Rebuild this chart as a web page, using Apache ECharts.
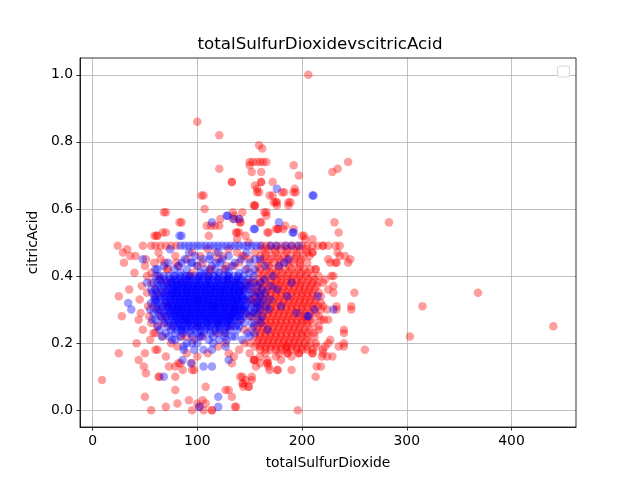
<!DOCTYPE html>
<html>
<head>
<meta charset="UTF-8">
<script src="https://cdn.jsdelivr.net/npm/echarts@6/dist/echarts.min.js"></script>
<style>
  html, body { margin: 0; padding: 0; background: #fff; }
  #container { width: 640px; height: 480px; }
</style>
</head>
<body>
<div id="container"></div>
<script>
// tick labels
var xTicks = [0, 100, 200, 300, 400];
var yTicks = [0, 0.2, 0.4, 0.6, 0.8, 1.0];

// red points [totalSulfurDioxide, citricAcid]
var redUpper = [[206,1.00],[100,0.86],[121,0.82],[159,0.79],[162,0.78],[121,0.72],[150,0.74],[153,0.74],[157,0.74],[160,0.74],[163,0.74],[166,0.74],
  [150,0.73],[152,0.71],[161,0.71],[192,0.73],[197,0.70],[161,0.68],[161,0.68],[172,0.68],[133,0.68],[133,0.68],[155,0.67],[157,0.66],[157,0.65],
  [183,0.65],[193,0.66],[192,0.65],[172,0.64],[173,0.62],[106,0.64],[107,0.60],[155,0.61],[155,0.61],[176,0.62],[176,0.61],[187,0.62],[187,0.61],
  [70,0.59],[85,0.56],[70,0.53],[62,0.52],[61,0.52],[134,0.59],[143,0.59],[134,0.57],[140,0.57],[122,0.57],[113,0.55],[121,0.55],[166,0.59],
  [166,0.58],[160,0.56],[177,0.54],[177,0.54],[168,0.53],[182,0.54],[192,0.54],[137,0.53],[140,0.53],[111,0.52],[200,0.52],[203,0.51],[244,0.74],
  [234,0.72],[229,0.71],[231,0.56],[283,0.56],[235,0.53],[104,0.64],[68,0.59],[83,0.56],[59,0.52],[67,0.53],[109,0.55],[117,0.55],[141,0.56],
  [141,0.56],[135,0.58],[138,0.53],[146,0.52],[138,0.51],[149,0.50],[154,0.61],[164,0.59],[161,0.56],[167,0.53],[175,0.54],[184,0.55],[202,0.52],
  [210,0.51],[159,0.65],[169,0.64],[175,0.62],[181,0.65],[189,0.62],[194,0.65],[368,0.35],[315,0.31],[440,0.25],[303,0.22],[260,0.18],[250,0.35]];

var redBand = [[24,0.49],[48,0.49],[56,0.49],[60,0.49],[65,0.49],[70,0.49],[75,0.49],[80,0.49],[162,0.49],[166,0.49],[170,0.49],[175,0.49],
  [180,0.49],[185,0.49],[190,0.49],[195,0.49],[200,0.49],[205,0.49],[210,0.49],[215,0.49],[220,0.49],[220,0.49],[225,0.49],[232,0.49],[236,0.49],
  [29,0.47],[33,0.48],[41,0.46],[63,0.47],[65,0.45],[69,0.44],[59,0.44],[56,0.41],[62,0.40],[79,0.46],[82,0.43],[210,0.47],[210,0.47],[234,0.47],
  [236,0.46],[241,0.46],[246,0.45],[244,0.44],[225,0.45],[227,0.44],[232,0.44],[233,0.44],[213,0.42],[213,0.42],[228,0.40],[95,0.47],[103,0.46],
  [110,0.48],[118,0.47],[125,0.46],[130,0.48],[138,0.47],[145,0.46],[150,0.45],[155,0.47],[100,0.43],[112,0.42],[128,0.43],[140,0.44],[148,0.42],
  [158,0.43],[162,0.48],[168,0.48],[174,0.48],[180,0.48],[186,0.48],[192,0.48],[198,0.48],[204,0.48],[160,0.46],[165,0.46],[171,0.46],[177,0.46],
  [183,0.46],[189,0.46],[195,0.46],[201,0.46],[207,0.46],[163,0.45],[170,0.45],[178,0.45],[185,0.45],[193,0.45],[199,0.45],[161,0.44],[167,0.44],
  [173,0.44],[179,0.44],[186,0.44],[192,0.44],[198,0.44],[205,0.44],[160,0.42],[166,0.42],[172,0.42],[178,0.42],[184,0.42],[190,0.42],[196,0.42],
  [202,0.42],[208,0.42],[164,0.41],[175,0.41],[187,0.41],[199,0.41],[162,0.40],[168,0.40],[174,0.40],[180,0.40],[186,0.40],[192,0.40],[198,0.40],
  [204,0.40],[210,0.40],[216,0.40],[220,0.38],[230,0.37],[230,0.40],[230,0.35],
  [165,0.47],[175,0.47],[185,0.47],[195,0.47],[205,0.47],[168,0.43],[178,0.43],[188,0.43],[198,0.43],[158,0.41],[170,0.41],[181,0.41],[193,0.41],[205,0.41]];

var redMid = [[160,0.39],[170,0.39],[180,0.39],[190,0.39],[200,0.39],[212,0.39],[222,0.39],[155,0.38],[165,0.38],[175,0.38],[185,0.38],[195,0.38],
  [205,0.38],[215,0.38],[158,0.37],[168,0.37],[178,0.37],[188,0.37],[198,0.37],[208,0.37],[152,0.36],[162,0.36],[172,0.36],[182,0.36],[192,0.36],
  [202,0.36],[212,0.36],[225,0.36],[160,0.35],[170,0.35],[180,0.35],[190,0.35],[200,0.35],[210,0.35],[155,0.34],[165,0.34],[175,0.34],[185,0.34],
  [195,0.34],[205,0.34],[218,0.34],[158,0.33],[168,0.33],[178,0.33],[188,0.33],[198,0.33],[208,0.33],[152,0.32],[162,0.32],[172,0.32],[182,0.32],
  [192,0.32],[202,0.32],[212,0.32],[160,0.31],[170,0.31],[180,0.31],[190,0.31],[200,0.31],[210,0.31],[220,0.31],[233,0.31],[247,0.31],[155,0.30],
  [165,0.30],[175,0.30],[185,0.30],[195,0.30],[205,0.30],[218,0.30],[233,0.30],[247,0.30],[158,0.29],[168,0.29],[178,0.29],[188,0.29],[198,0.29],
  [208,0.29],[152,0.28],[162,0.28],[172,0.28],[182,0.28],[192,0.28],[202,0.28],[160,0.27],[170,0.27],[180,0.27],[190,0.27],[200,0.27],[208,0.27],
  [218,0.27],[221,0.27],[225,0.27],[155,0.26],[165,0.26],[175,0.26],[185,0.26],[195,0.26],[205,0.26],[158,0.25],[168,0.25],[178,0.25],[188,0.25],
  [198,0.25],[216,0.25],[152,0.24],[162,0.24],[172,0.24],[182,0.24],[192,0.24],[202,0.24],[216,0.24],[240,0.24],[160,0.23],[170,0.23],[180,0.23],
  [190,0.23],[200,0.23],[211,0.23],[155,0.22],[165,0.22],[175,0.22],[185,0.22],[195,0.22],[205,0.22],[158,0.21],[168,0.21],[178,0.21],[188,0.21],
  [198,0.21],[227,0.21],[150,0.20],[162,0.20],[172,0.20],[182,0.20],[192,0.20],[202,0.20],[213,0.20],[225,0.20],[240,0.20],[155,0.19],[165,0.19],
  [175,0.19],[185,0.19],[195,0.19],[205,0.19],[214,0.19],[222,0.19],[235,0.19],[240,0.19],[160,0.18],[170,0.18],[180,0.18],[190,0.18],[200,0.18],
  [210,0.18],[220,0.18],[150,0.17],[165,0.17],[178,0.17],[186,0.17],[197,0.17],[210,0.17],[229,0.16],[160,0.16],[175,0.16],[190,0.16],[219,0.16],
  [154,0.15],[167,0.15],[180,0.15],[240,0.23],[214,0.13]];

var redMid2 = [[153,0.39],[164,0.39],[176,0.39],[186,0.39],[195,0.39],[206,0.39],[150,0.38],[160,0.38],[171,0.38],[180,0.38],[190,0.38],[199,0.38],
  [210,0.38],[163,0.37],[173,0.37],[183,0.37],[193,0.37],[203,0.37],[214,0.37],[157,0.36],[167,0.36],[177,0.36],[187,0.36],[197,0.36],[207,0.36],
  [155,0.35],[165,0.35],[175,0.35],[185,0.35],[195,0.35],[205,0.35],[216,0.35],[160,0.34],[170,0.34],[180,0.34],[190,0.34],[200,0.34],[210,0.34],
  [153,0.33],[163,0.33],[173,0.33],[183,0.33],[193,0.33],[203,0.33],[213,0.33],[157,0.32],[167,0.32],[177,0.32],[187,0.32],[197,0.32],[207,0.32],
  [218,0.32],[165,0.31],[175,0.31],[185,0.31],[195,0.31],[205,0.31],[215,0.31],[160,0.30],[170,0.30],[180,0.30],[190,0.30],[200,0.30],[211,0.30],
  [224,0.30],[163,0.29],[173,0.29],[183,0.29],[193,0.29],[203,0.29],[213,0.29],[157,0.28],[167,0.28],[177,0.28],[187,0.28],[197,0.28],[207,0.28],
  [216,0.28],[165,0.27],[175,0.27],[185,0.27],[195,0.27],[204,0.27],[160,0.26],[170,0.26],[180,0.26],[190,0.26],[200,0.26],[211,0.26],[163,0.25],
  [173,0.25],[183,0.25],[193,0.25],[205,0.25],[157,0.24],[167,0.24],[177,0.24],[187,0.24],[197,0.24],[208,0.24],[165,0.23],[175,0.23],[185,0.23],
  [195,0.23],[205,0.23],[160,0.22],[170,0.22],[180,0.22],[190,0.22],[200,0.22],[212,0.22],[163,0.21],[173,0.21],[183,0.21],[193,0.21],[205,0.21],
  [157,0.20],[167,0.20],[177,0.20],[187,0.20],[197,0.20],[208,0.20],[160,0.19],[170,0.19],[180,0.19],[190,0.19],[200,0.19],[165,0.18],[175,0.18],
  [185,0.18],[195,0.18],[205,0.18]];

var redLeft = [[25,0.34],[28,0.28],[44,0.15],[49,0.13],[51,0.11],[63,0.10],[64,0.10],[50,0.04],[56,0.00],[70,0.01],[9,0.09],[25,0.17],[62,0.18],
  [81,0.19],[73,0.13],[82,0.14],[97,0.12],[46,0.29],[54,0.28],[56,0.26],[62,0.25],[67,0.22],[63,0.30],[70,0.28],[60,0.34],[56,0.38],[65,0.39],
  [71,0.42],[60,0.18],[40,0.41],[35,0.36],[45,0.33],[52,0.40],[30,0.44],[48,0.24],[42,0.20],[58,0.31],[52,0.35],[66,0.35],[68,0.26],[72,0.31],
  [75,0.38],[36,0.46],[50,0.43],[55,0.21],[50,0.17],[47,0.37],[53,0.31],[58,0.23],[44,0.27],[51,0.45]];

var redLower = [[79,0.13],[86,0.12],[95,0.12],[79,0.06],[81,0.02],[92,0.03],[105,0.03],[108,0.02],[114,0.00],[95,0.00],[127,0.06],[130,0.06],
  [137,0.01],[141,0.10],[144,0.08],[144,0.07],[149,0.07],[152,0.09],[154,0.15],[156,0.13],[167,0.14],[169,0.12],[177,0.12],[196,0.00],[213,0.10],
  [218,0.13],[220,0.17],[210,0.17],[197,0.17],[186,0.17],[185,0.19],[79,0.10],[84,0.14],[95,0.14],[100,0.02],[102,0.01],[106,0.00],[114,0.00],
  [108,0.07],[133,0.04],[136,0.01],[143,0.10],[152,0.10],[155,0.15],[160,0.14],[167,0.14],[168,0.13],[176,0.12],[190,0.12],[224,0.16],[127,0.20],
  [130,0.17],[133,0.14],[100,0.16],[110,0.17],[120,0.19],[90,0.17],[70,0.16],[75,0.20],[85,0.22],[60,0.23],[143,0.08],[146,0.09],[149,0.07],
  [140,0.18],[145,0.20],[118,0.23],[97,0.21],[135,0.16]];

var redCore = [[140,0.35],[145,0.36],[135,0.30],[120,0.26],[100,0.25],[90,0.27],[80,0.30],[75,0.35],[70,0.38],[110,0.40],[125,0.42],[95,0.41],
  [85,0.38],[100,0.33],[115,0.31],[130,0.28],[145,0.24],[150,0.28],[105,0.22],[90,0.22],[75,0.25],[65,0.28],[70,0.32],[60,0.36],[72,0.42],
  [80,0.44],[90,0.45],[150,0.33],[148,0.38],[142,0.30],[138,0.33],[141,0.27],[136,0.38],[132,0.25],[128,0.39],[146,0.29],[143,0.37],[126,0.23],
  [113,0.42],[105,0.44],[93,0.40],[120,0.45],[135,0.43],[143,0.46]];

// blue points [totalSulfurDioxide, citricAcid]
var blueCore = [[68,0.40],[73,0.40],[79,0.40],[84,0.40],[88,0.40],[93,0.40],[97,0.40],[102,0.40],[107,0.40],[111,0.40],[116,0.40],[121,0.40],
  [125,0.40],[130,0.40],[135,0.40],[139,0.40],[144,0.40],
  [64,0.39],[69,0.39],[74,0.39],[78,0.39],[83,0.39],[87,0.39],[92,0.39],[96,0.39],[101,0.39],[105,0.39],[110,0.39],[114,0.39],[119,0.39],
  [124,0.39],[128,0.39],[133,0.39],[137,0.39],[142,0.39],[148,0.39],
  [62,0.38],[66,0.38],[71,0.38],[76,0.38],[80,0.38],[85,0.38],[89,0.38],[94,0.38],[98,0.38],[103,0.38],[108,0.38],[112,0.38],[117,0.38],
  [121,0.38],[126,0.38],[130,0.38],[135,0.38],[140,0.38],[146,0.38],[153,0.38],
  [63,0.37],[68,0.37],[72,0.37],[77,0.37],[81,0.37],[86,0.37],[91,0.37],[95,0.37],[100,0.37],[104,0.37],[109,0.37],[113,0.37],[118,0.37],
  [123,0.37],[127,0.37],[132,0.37],[136,0.37],[141,0.37],[147,0.37],
  [60,0.36],[65,0.36],[70,0.36],[74,0.36],[79,0.36],[83,0.36],[88,0.36],[92,0.36],[97,0.36],[101,0.36],[106,0.36],[111,0.36],[115,0.36],
  [120,0.36],[124,0.36],[129,0.36],[134,0.36],[138,0.36],[143,0.36],[150,0.36],
  [62,0.35],[67,0.35],[71,0.35],[76,0.35],[80,0.35],[85,0.35],[90,0.35],[94,0.35],[99,0.35],[103,0.35],[108,0.35],[112,0.35],[117,0.35],
  [122,0.35],[126,0.35],[131,0.35],[135,0.35],[140,0.35],[145,0.35],[152,0.35],
  [59,0.34],[64,0.34],[68,0.34],[73,0.34],[78,0.34],[82,0.34],[87,0.34],[91,0.34],[96,0.34],[100,0.34],[105,0.34],[110,0.34],[114,0.34],
  [119,0.34],[123,0.34],[128,0.34],[132,0.34],[137,0.34],[142,0.34],[148,0.34],[156,0.34],
  [61,0.33],[66,0.33],[70,0.33],[75,0.33],[79,0.33],[84,0.33],[89,0.33],[93,0.33],[98,0.33],[102,0.33],[107,0.33],[111,0.33],[116,0.33],
  [121,0.33],[125,0.33],[130,0.33],[134,0.33],[139,0.33],[144,0.33],[150,0.33],
  [60,0.32],[64,0.32],[69,0.32],[73,0.32],[78,0.32],[83,0.32],[87,0.32],[92,0.32],[96,0.32],[101,0.32],[105,0.32],[110,0.32],[115,0.32],
  [119,0.32],[124,0.32],[128,0.32],[133,0.32],[137,0.32],[142,0.32],[147,0.32],[154,0.32],
  [62,0.31],[67,0.31],[71,0.31],[76,0.31],[81,0.31],[85,0.31],[90,0.31],[94,0.31],[99,0.31],[103,0.31],[108,0.31],[113,0.31],[117,0.31],
  [122,0.31],[126,0.31],[131,0.31],[135,0.31],[140,0.31],[146,0.31],[152,0.31],
  [61,0.30],[65,0.30],[70,0.30],[74,0.30],[79,0.30],[84,0.30],[88,0.30],[93,0.30],[97,0.30],[102,0.30],[106,0.30],[111,0.30],[116,0.30],
  [120,0.30],[125,0.30],[129,0.30],[134,0.30],[138,0.30],[143,0.30],[149,0.30],[156,0.30],
  [63,0.29],[68,0.29],[72,0.29],[77,0.29],[82,0.29],[86,0.29],[91,0.29],[95,0.29],[100,0.29],[104,0.29],[109,0.29],[114,0.29],[118,0.29],
  [123,0.29],[127,0.29],[132,0.29],[136,0.29],[141,0.29],[147,0.29],
  [65,0.28],[70,0.28],[75,0.28],[79,0.28],[84,0.28],[88,0.28],[93,0.28],[98,0.28],[102,0.28],[107,0.28],[111,0.28],[116,0.28],[121,0.28],
  [125,0.28],[130,0.28],[134,0.28],[139,0.28],[144,0.28],[150,0.28],
  [67,0.27],[72,0.27],[76,0.27],[81,0.27],[86,0.27],[90,0.27],[95,0.27],[99,0.27],[104,0.27],[109,0.27],[113,0.27],[118,0.27],[122,0.27],
  [127,0.27],[131,0.27],[136,0.27],[142,0.27],
  [69,0.26],[74,0.26],[78,0.26],[83,0.26],[88,0.26],[92,0.26],[97,0.26],[101,0.26],[106,0.26],[110,0.26],[115,0.26],[120,0.26],[124,0.26],
  [129,0.26],[133,0.26],[139,0.26],
  [72,0.25],[77,0.25],[81,0.25],[86,0.25],[90,0.25],[95,0.25],[100,0.25],[104,0.25],[109,0.25],[113,0.25],[118,0.25],[122,0.25],[127,0.25],
  [132,0.25],[137,0.25],
  [75,0.24],[80,0.24],[85,0.24],[89,0.24],[94,0.24],[98,0.24],[103,0.24],[107,0.24],[112,0.24],[117,0.24],[121,0.24],[126,0.24],[131,0.24],
  [79,0.23],[86,0.23],[93,0.23],[100,0.23],[106,0.23],[113,0.23],[120,0.23],[127,0.23],
  [84,0.22],[95,0.22],[104,0.22],[115,0.22],[126,0.22]];

var blueCore2 = [[75,0.38],[84,0.38],[93,0.38],[102,0.38],[111,0.38],[120,0.38],[129,0.38],[138,0.38],[79,0.37],[88,0.37],[97,0.37],[106,0.37],
  [115,0.37],[124,0.37],[133,0.37],[142,0.37],[72,0.36],[81,0.36],[90,0.36],[99,0.36],[108,0.36],[117,0.36],[126,0.36],[135,0.36],[144,0.36],
  [77,0.35],[86,0.35],[95,0.35],[104,0.35],[113,0.35],[122,0.35],[131,0.35],[140,0.35],[70,0.34],[80,0.34],[89,0.34],[98,0.34],[107,0.34],
  [116,0.34],[125,0.34],[134,0.34],[143,0.34],[74,0.33],[83,0.33],[92,0.33],[101,0.33],[110,0.33],[119,0.33],[128,0.33],[137,0.33],[146,0.33],
  [76,0.32],[85,0.32],[94,0.32],[103,0.32],[112,0.32],[121,0.32],[130,0.32],[139,0.32],[72,0.31],[82,0.31],[91,0.31],[100,0.31],[109,0.31],
  [118,0.31],[127,0.31],[136,0.31],[145,0.31],[76,0.30],[86,0.30],[95,0.30],[104,0.30],[113,0.30],[122,0.30],[131,0.30],[140,0.30],[74,0.29],
  [84,0.29],[93,0.29],[102,0.29],[111,0.29],[120,0.29],[129,0.29],[138,0.29],[78,0.28],[87,0.28],[96,0.28],[105,0.28],[114,0.28],[123,0.28],
  [132,0.28],[141,0.28],[80,0.27],[89,0.27],[98,0.27],[107,0.27],[116,0.27],[125,0.27],[134,0.27],[82,0.26],[91,0.26],[100,0.26],[109,0.26],
  [118,0.26],[127,0.26],[84,0.25],[93,0.25],[102,0.25],[111,0.25],[120,0.25],[129,0.25]];

var blueCore3 = [[82,0.37],[91,0.37],[100,0.37],[109,0.37],[118,0.37],[127,0.37],[136,0.37],[77,0.36],[86,0.36],[95,0.36],[104,0.36],[113,0.36],
  [122,0.36],[131,0.36],[140,0.36],[81,0.35],[90,0.35],[99,0.35],[108,0.35],[117,0.35],[126,0.35],[135,0.35],[75,0.34],[85,0.34],[94,0.34],
  [103,0.34],[112,0.34],[121,0.34],[130,0.34],[139,0.34],[79,0.33],[88,0.33],[97,0.33],[106,0.33],[115,0.33],[124,0.33],[133,0.33],[142,0.33],
  [81,0.32],[90,0.32],[99,0.32],[108,0.32],[117,0.32],[126,0.32],[135,0.32],[77,0.31],[87,0.31],[96,0.31],[105,0.31],[114,0.31],[123,0.31],
  [132,0.31],[141,0.31],[81,0.30],[90,0.30],[99,0.30],[108,0.30],[117,0.30],[126,0.30],[135,0.30],[145,0.30],[79,0.29],[89,0.29],[98,0.29],
  [107,0.29],[116,0.29],[125,0.29],[134,0.29],[83,0.28],[92,0.28],[101,0.28],[110,0.28],[119,0.28],[128,0.28],[137,0.28],[85,0.27],[94,0.27],
  [103,0.27],[112,0.27],[121,0.27],[130,0.27],[80,0.39],[90,0.39],[100,0.39],[110,0.39],[120,0.39],[130,0.39],[140,0.39],[77,0.40],[90,0.40],
  [103,0.40],[116,0.40],[129,0.40]];

var blueEdge = [[58,0.38],[57,0.35],[56,0.32],[58,0.29],[60,0.27],[64,0.24],[70,0.23],[76,0.21],[90,0.20],[100,0.20],[115,0.20],[128,0.21],
  [136,0.22],[140,0.25],[145,0.26],[155,0.29],[158,0.31],[160,0.34],[157,0.37],[154,0.40],[150,0.41],[60,0.40],[62,0.42],[68,0.43],[82,0.43],
  [160,0.32],[162,0.28],[154,0.25],[150,0.37],[153,0.29],[158,0.35],[163,0.33],[166,0.31],[161,0.26],[155,0.23],[170,0.37],[150,0.22]];

var blueUpperCore = [[98,0.46],[105,0.45],[112,0.46],[118,0.44],[124,0.45],[130,0.46],[136,0.44],[142,0.45],[100,0.43],[107,0.42],[114,0.43],
  [121,0.41],[127,0.42],[133,0.43],[140,0.41],[146,0.42],[90,0.42],[84,0.41],[78,0.42],[95,0.44],[110,0.41],[117,0.42],[103,0.41],[130,0.41],
  [150,0.44],[155,0.42],[88,0.45],[72,0.44],[92,0.47],[120,0.47],[147,0.47],[160,0.45],[165,0.43]];

var blueRight = [[157,0.32],[168,0.30],[176,0.36],[186,0.34],[167,0.24],[205,0.28],[212,0.30],[230,0.30],[215,0.34],[206,0.28],[178,0.43],
  [187,0.45],[183,0.44],[160,0.38],[165,0.35],[170,0.33],[158,0.27],[162,0.36],[172,0.40],[180,0.31],[190,0.38],[195,0.29],[160,0.30],
  [164,0.39],[155,0.45]];

var blueRow = [[84,0.49],[88,0.49],[92,0.49],[96,0.49],[100,0.49],[104,0.49],[108,0.49],[112,0.49],[116,0.49],[120,0.49],[124,0.49],[128,0.49],
  [132,0.49],[136,0.49],[140,0.49],[144,0.49],[148,0.49],[152,0.49],[156,0.49],[160,0.49],[170,0.49],[176,0.49],[184,0.49],[190,0.49],[197,0.49]];

var blueOuter = [[129,0.58],[114,0.56],[85,0.52],[83,0.52],[155,0.54],[154,0.54],[178,0.56],[191,0.53],[192,0.53],[176,0.66],[211,0.64],
  [210,0.64],[128,0.58],[140,0.57],[74,0.48],[85,0.44],[94,0.44],[48,0.45],[122,0.44],[112,0.45],[135,0.57],
  [37,0.30],[34,0.32],[68,0.10],[86,0.15],[106,0.13],[114,0.13],[130,0.15],[87,0.18],[97,0.18],[106,0.18],[114,0.18],[120,0.04],[120,0.01],
  [102,0.01],[73,0.22],[87,0.19],[86,0.24],[102,0.22],[111,0.21],[121,0.21],[133,0.22],[143,0.21],[59,0.33],[56,0.36],[55,0.30],[57,0.27],
  [62,0.25],[66,0.22],[64,0.40],[60,0.42],[52,0.38],[79,0.21],[95,0.20],[127,0.19],[138,0.24],[148,0.23],[152,0.26],[94,0.14]];

var redPoints = [].concat(redUpper, redBand, redMid, redMid2, redLeft, redLower, redCore);
var bluePoints = [].concat(blueRow, blueOuter, blueUpperCore, blueRight, blueEdge, blueCore, blueCore2, blueCore3);

var font = 'DejaVu Sans';
var chart = echarts.init(document.getElementById('container'), null, { renderer: 'canvas' });

function scatter(data, color) {
  return {
    type: 'scatter',
    data: data,
    symbol: 'circle',
    symbolSize: 8.5,
    progressive: 0,
    itemStyle: { color: color, opacity: 0.38 },
    emphasis: { disabled: true },
    silent: true
  };
}

chart.setOption({
  animation: false,
  backgroundColor: '#fff',
  title: {
    text: 'totalSulfurDioxidevscitricAcid',
    left: 'center',
    top: 31,
    textStyle: { fontFamily: font, fontSize: 16.7, fontWeight: 'normal', color: '#000' }
  },
  grid: { left: 80, right: 64, top: 58, bottom: 53, containLabel: false },
  xAxis: {
    type: 'value',
    min: -12,
    max: 461.6,
    name: 'totalSulfurDioxide',
    nameLocation: 'middle',
    nameGap: 29,
    nameTextStyle: { fontFamily: font, fontSize: 13.9, color: '#000' },
    axisLine: { show: true, onZero: false, lineStyle: { color: '#000', width: 0.8 } },
    axisTick: { show: true, inside: false, length: 3.5, customValues: xTicks, lineStyle: { color: '#000', width: 0.8 } },
    axisLabel: { customValues: xTicks, margin: 7, fontFamily: font, fontSize: 13.9, color: '#000' },
    splitLine: { show: true, lineStyle: { color: '#b0b0b0', width: 0.8 } }
  },
  yAxis: {
    type: 'value',
    min: -0.05,
    max: 1.05,
    name: 'citricAcid',
    nameLocation: 'middle',
    nameGap: 36,
    nameRotate: 90,
    nameTextStyle: { fontFamily: font, fontSize: 13.9, color: '#000' },
    axisLine: { show: true, onZero: false, lineStyle: { color: '#000', width: 0.8 } },
    axisTick: { show: true, inside: false, length: 3.5, customValues: yTicks, lineStyle: { color: '#000', width: 0.8 } },
    axisLabel: {
      customValues: yTicks, margin: 7, fontFamily: font, fontSize: 13.9, color: '#000',
      formatter: function (v) { return v.toFixed(1); }
    },
    splitLine: { show: true, lineStyle: { color: '#b0b0b0', width: 0.8 } }
  },
  graphic: [
    // axes frame (top/right spines)
    { type: 'rect', z: 100, shape: { x: 80, y: 58, width: 496, height: 369 },
      style: { fill: 'none', stroke: '#000', lineWidth: 0.8 } },
    // empty legend box
    { type: 'rect', z: 100, shape: { x: 557.5, y: 66, width: 12, height: 11, r: 2 },
      style: { fill: '#fff', stroke: '#d5d5d5', lineWidth: 1 } }
  ],
  series: [
    scatter(redPoints, '#ff0000'),
    scatter(bluePoints, '#0000ff')
  ]
});
</script>
</body>
</html>
